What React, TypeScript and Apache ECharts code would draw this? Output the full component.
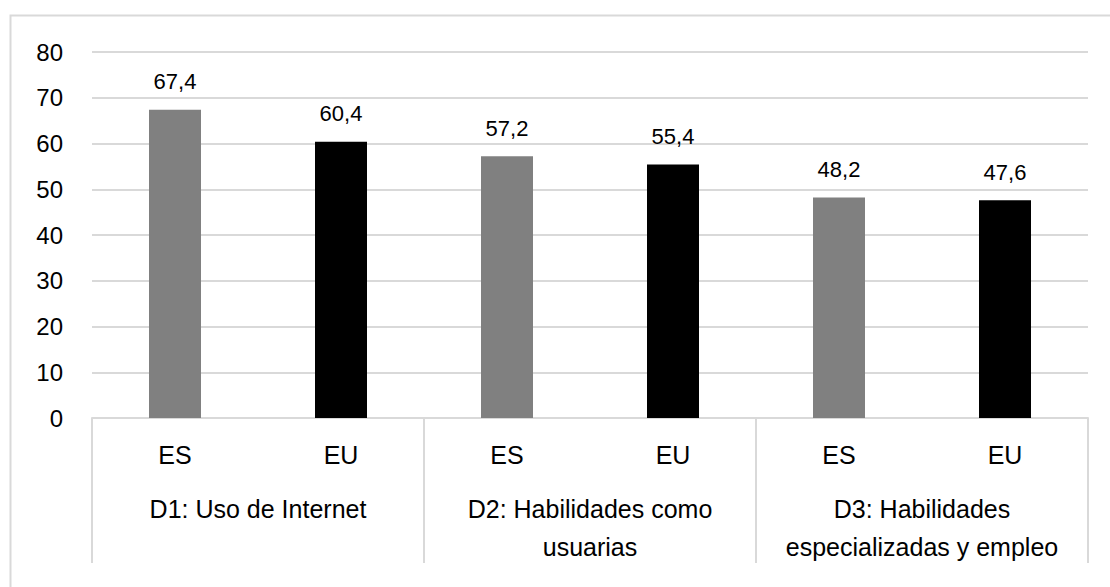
import React, { useEffect, useRef } from "react";
import * as echarts from "echarts";

// Country codes under each bar and the dimension each pair belongs to
const countries = ["ES", "EU", "ES", "EU", "ES", "EU"];
const dimensions = [
  "D1: Uso de Internet",
  "D2: Habilidades como\nusuarias",
  "D3: Habilidades\nespecializadas y empleo",
];
const scores = [67.4, 60.4, 57.2, 55.4, 48.2, 47.6];
const yTicks = [0, 10, 20, 30, 40, 50, 60, 70, 80];

const countryColors: Record<string, string> = { ES: "#808080", EU: "#000000" };

const FONT = "'Liberation Sans', Arial, Helvetica, sans-serif";
const GRID_GRAY = "#d9d9d9";

export default function App() {
  const ref = useRef<HTMLDivElement>(null);

  useEffect(() => {
    if (!ref.current) return;
    const chart = echarts.init(ref.current, undefined, { renderer: "svg" });
    chart.setOption({
      animation: false,
      backgroundColor: "#ffffff",
      textStyle: { fontFamily: FONT },
      graphic: [
        {
          type: "rect",
          left: 8,
          top: 13,
          shape: { x: 0, y: 0, width: 1200, height: 700 },
          style: { fill: "none", stroke: GRID_GRAY, lineWidth: 2 },
          silent: true,
        },
      ],
      grid: { left: 92, right: 22, top: 52, bottom: 169, containLabel: false },
      xAxis: [
        {
          type: "category",
          data: countries,
          position: "bottom",
          axisLine: { show: true, lineStyle: { color: GRID_GRAY, width: 2 } },
          axisTick: { show: false },
          axisLabel: {
            interval: 0,
            margin: 24,
            fontSize: 25,
            color: "#000",
            fontFamily: FONT,
          },
        },
        {
          type: "category",
          data: dimensions,
          position: "bottom",
          axisLine: { show: false },
          axisTick: {
            show: true,
            length: 145,
            lineStyle: { color: GRID_GRAY, width: 2 },
          },
          axisLabel: {
            interval: 0,
            margin: 72,
            fontSize: 25,
            lineHeight: 38,
            color: "#000",
            fontFamily: FONT,
          },
        },
      ],
      yAxis: {
        type: "value",
        min: yTicks[0],
        max: yTicks[yTicks.length - 1],
        interval: 10,
        axisLine: { show: false },
        axisTick: { show: false },
        splitLine: { lineStyle: { color: GRID_GRAY, width: 2 } },
        axisLabel: { fontSize: 24, color: "#000", margin: 29, fontFamily: FONT },
      },
      series: [
        {
          type: "bar",
          xAxisIndex: 0,
          barWidth: 52,
          data: scores.map((v, i) => ({
            value: v,
            itemStyle: { color: countryColors[countries[i]] },
          })),
          label: {
            show: true,
            position: "top",
            distance: 17,
            fontSize: 22,
            color: "#000",
            fontFamily: FONT,
            formatter: (p: any) => Number(p.value).toFixed(1).replace(".", ","),
          },
        },
      ],
    });
    return () => chart.dispose();
  }, []);

  return (
    <div
      ref={ref}
      style={{ position: "fixed", left: 0, top: 0, width: 1110, height: 587 }}
    />
  );
}
